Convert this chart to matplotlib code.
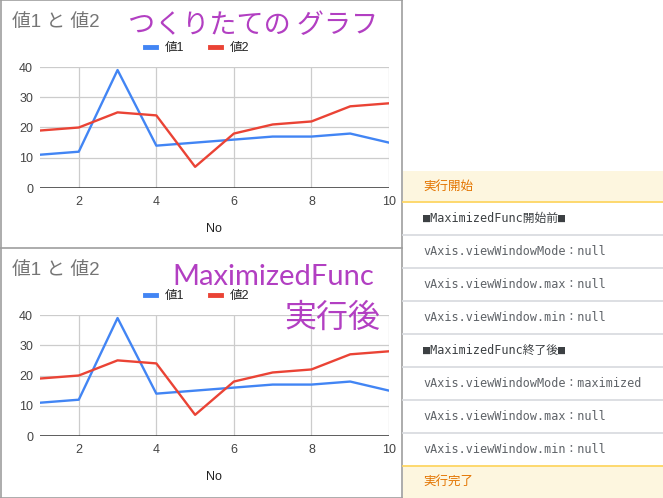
import matplotlib.pyplot as plt
from matplotlib.lines import Line2D
from matplotlib.patches import Rectangle

plt.rcParams['font.family'] = ['Liberation Sans', 'Noto Sans CJK JP', 'DejaVu Sans']

# データ
no = [1, 2, 3, 4, 5, 6, 7, 8, 9, 10]
val1 = [11, 12, 39, 14, 15, 16, 17, 17, 18, 15]
val2 = [19, 20, 25, 24, 7, 18, 21, 22, 27, 28]
x_ticks = [2, 4, 6, 8, 10]
y_ticks = [0, 10, 20, 30, 40]
chart_title = '値1 と 値2'
series_names = ['値1', '値2']

log_rows = [
    '実行開始',
    '■MaximizedFunc開始前■',
    'vAxis.viewWindowMode：null',
    'vAxis.viewWindow.max：null',
    'vAxis.viewWindow.min：null',
    '■MaximizedFunc終了後■',
    'vAxis.viewWindowMode：maximized',
    'vAxis.viewWindow.max：null',
    'vAxis.viewWindow.min：null',
    '実行完了',
]

W, H = 663, 498
PURPLE = '#b23fc2'


def fx(px):
    return px / W


def fy(py):
    return 1 - py / H


fig = plt.figure(figsize=(W / 100, H / 100), dpi=100)


def draw_chart(top):
    ax = fig.add_axes([fx(40), fy(top + 188), (389 - 40) / W, (188 - 67) / H])
    ax.plot(no, val1, color='#4285F4', lw=1.7, label=series_names[0])
    ax.plot(no, val2, color='#EA4335', lw=1.7, label=series_names[1])
    ax.set_xlim(1, 10)
    ax.set_ylim(0, 40)
    ax.set_xticks(x_ticks)
    ax.set_yticks(y_ticks)
    for s in ax.spines.values():
        s.set_visible(False)
    ax.grid(True, color='#cccccc', lw=0.9)
    ax.set_axisbelow(True)
    ax.axhline(0, color='#333333', lw=1.1, zorder=1.5)
    ax.tick_params(length=0, labelsize=9, labelcolor='#444444')
    ax.tick_params(axis='y', pad=5)
    ax.tick_params(axis='x', pad=6)
    leg = ax.legend(loc='center', bbox_to_anchor=(fx(197), fy(top + 48)),
                    bbox_transform=fig.transFigure, ncol=2, frameon=False,
                    fontsize=9, handlelength=0.9, handletextpad=0.7,
                    columnspacing=2.0, labelcolor='#222222')
    for h in leg.get_lines():
        h.set_linewidth(3.5)
    fig.text(fx(12), fy(top + 22), chart_title, va='center', fontsize=13.5, color='#757575')
    fig.text(fx(214), fy(top + 229), 'No', ha='center', va='center', fontsize=9, color='#222222')
    return ax


draw_chart(0)
draw_chart(248)

# 枠線
frame = '#9e9e9e'
for xs, ys in [([0.5, 402], [0.5, 0.5]), ([0.5, 0.5], [0.5, 497.5]),
               ([402, 402], [0, 498]), ([0, 402], [248, 248]),
               ([0, 402], [497.5, 497.5])]:
    fig.add_artist(Line2D([fx(x) for x in xs], [fy(y) for y in ys],
                          transform=fig.transFigure, color=frame, lw=1.2))

# 手書き風メモ
fig.text(fx(253), fy(26), 'つくりたての グラフ', ha='center', va='center',
         fontsize=19.5, color=PURPLE, family=['Noto Sans CJK JP'])
fig.text(fx(273), fy(277), 'MaximizedFunc', ha='center', va='center',
         fontsize=21, color=PURPLE, family=['Lato'])
fig.text(fx(332), fy(318), '実行後', ha='center', va='center',
         fontsize=23, color=PURPLE, family=['Noto Sans CJK JP'])

# ログパネル
edges = [171] + [202 + 33 * k for k in range(9)] + [498]
for i, row in enumerate(log_rows):
    y0, y1 = edges[i], edges[i + 1]
    if i == 0 or i == len(log_rows) - 1:
        fig.add_artist(Rectangle((fx(403), fy(y1)), fx(663) - fx(403), (y1 - y0) / H,
                                 transform=fig.transFigure, facecolor='#fdf6df',
                                 edgecolor='none'))
        fig.text(fx(423), fy((y0 + y1) / 2), row, va='center', fontsize=9,
                 color='#e37400', family=['Noto Sans CJK JP'])
    else:
        color = '#3c4043' if row.startswith('■') else '#5f6368'
        fig.text(fx(423), fy((y0 + y1) / 2), row, va='center', fontsize=8.5,
                 color=color, family=['DejaVu Sans Mono', 'Noto Sans CJK JP'])
for k in range(9):
    y = 202 + 33 * k
    c = '#fdd663' if k in (0, 8) else '#dadce0'
    fig.add_artist(Line2D([fx(403), 1], [fy(y), fy(y)], transform=fig.transFigure,
                          color=c, lw=1.3))

fig.savefig('out.png', dpi=100)
